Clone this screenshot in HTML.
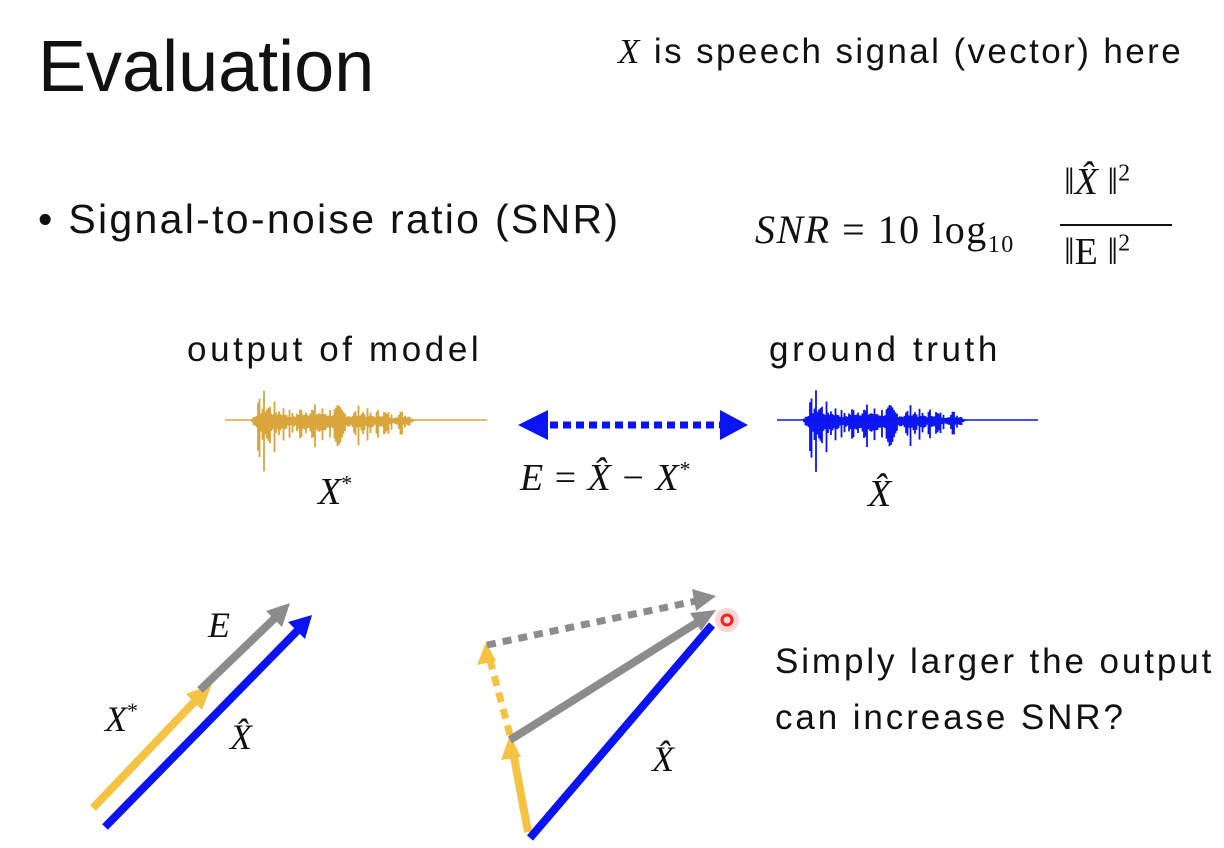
<!DOCTYPE html>
<html><head><meta charset="utf-8"><style>
body{margin:0;background:#fff;width:1224px;height:848px;overflow:hidden;position:relative;font-family:"Liberation Sans",sans-serif;color:#111}
.t{position:absolute;white-space:nowrap}
.m{font-family:"Liberation Serif",serif;font-style:italic}
</style></head><body>
<div class="t" style="left:38px;top:26px;font-size:72px;font-weight:300">Evaluation</div>
<div class="t" style="left:618px;top:32px;font-size:35px;letter-spacing:2.4px"><span class="m">X</span> is speech signal (vector) here</div>
<div class="t" style="left:38px;top:196px;font-size:41px;letter-spacing:2.3px">• Signal-to-noise ratio (SNR)</div>
<div class="t m" style="left:755px;top:206px;font-size:40px;letter-spacing:1.5px">SNR <span style="font-style:normal">= 10 log<sub style="font-size:24px">10</sub></span></div>
<div class="t m" style="left:1064px;top:160px;font-size:38px">‖X̂ ‖<sup style="font-size:24px;font-style:normal">2</sup></div>
<div style="position:absolute;left:1060px;top:224px;width:112px;height:2px;background:#111"></div>
<div class="t" style="left:1064px;top:230px;font-size:38px;font-family:'Liberation Serif',serif">‖E ‖<sup style="font-size:24px">2</sup></div>
<div class="t" style="left:187px;top:330px;font-size:35px;letter-spacing:3.6px">output of model</div>
<div class="t" style="left:769px;top:330px;font-size:35px;letter-spacing:3.6px">ground truth</div>
<svg width="1224" height="848" style="position:absolute;left:0;top:0">
<g id="w1"></g><g id="w2"></g>
<line x1="550" y1="425" x2="720" y2="425" stroke="#0a14f0" stroke-width="7" stroke-dasharray="8,5"/>
<path d="M518,425L548,410L548,440z" fill="#0a14f0"/>
<path d="M748,425L720,410L720,440z" fill="#0a14f0"/>
<line x1="93" y1="808" x2="196" y2="700" stroke="#f5c242" stroke-width="8"/>
<path d="M212,684L186,694L202,710z" fill="#f5c242"/>
<line x1="200" y1="690" x2="276" y2="617" stroke="#8c8c8c" stroke-width="8"/>
<path d="M290,603L266,611L282,627z" fill="#8c8c8c"/>
<line x1="105" y1="827" x2="298" y2="630" stroke="#0a14f0" stroke-width="8"/>
<path d="M312,615L288,622L305,639z" fill="#0a14f0"/>
<line x1="528" y1="832" x2="514" y2="757" stroke="#f5c242" stroke-width="8"/>
<path d="M510,735L501,760L521,757z" fill="#f5c242"/>
<line x1="510" y1="735" x2="490" y2="660" stroke="#f5c242" stroke-width="7" stroke-dasharray="10,7"/>
<path d="M486,642L477,665L496,661z" fill="#f5c242"/>
<line x1="510" y1="740" x2="698" y2="622" stroke="#8c8c8c" stroke-width="8"/>
<path d="M716,610L690,613L701,631z" fill="#8c8c8c"/>
<line x1="487" y1="645" x2="696" y2="601" stroke="#8c8c8c" stroke-width="7" stroke-dasharray="9,7"/>
<path d="M716,596L692,589L696,611z" fill="#8c8c8c"/>
<line x1="530" y1="838" x2="712" y2="625" stroke="#0a14f0" stroke-width="8"/>
<circle cx="727" cy="620" r="12" fill="#f55" opacity="0.25"/>
<circle cx="727" cy="620" r="5" fill="none" stroke="#e22" stroke-width="3"/>
</svg>
<div class="t m" style="left:318px;top:470px;font-size:38px">X<sup style="font-size:22px;font-style:normal">*</sup></div>
<div class="t m" style="left:520px;top:456px;font-size:38px;letter-spacing:1px">E <span style="font-style:normal">=</span> X̂ <span style="font-style:normal">−</span> X<sup style="font-size:22px;font-style:normal">*</sup></div>
<div class="t m" style="left:868px;top:472px;font-size:38px">X̂</div>
<div class="t m" style="left:208px;top:604px;font-size:36px">E</div>
<div class="t m" style="left:105px;top:698px;font-size:36px">X<sup style="font-size:22px;font-style:normal">*</sup></div>
<div class="t m" style="left:230px;top:716px;font-size:36px">X̂</div>
<div class="t m" style="left:652px;top:738px;font-size:36px">X̂</div>
<div class="t" style="left:775px;top:634px;font-size:35px;line-height:56px;letter-spacing:2.9px">Simply larger the output<br>can increase SNR?</div>
<script>
function wave(id,x0,x1,color){
 var g=document.getElementById(id),s='',seed=7;
 function r(){seed=(seed*9301+49297)%233280;return seed/233280;}
 var env=[[0,0],[0.1,0],[0.12,0.5],[0.15,1],[0.18,0.6],[0.22,0.55],[0.26,0.25],[0.3,0.6],[0.38,0.45],[0.44,0.5],[0.48,0.3],[0.52,0.55],[0.56,0.25],[0.6,0.45],[0.64,0.2],[0.66,0.35],[0.7,0.3],[0.72,0.05],[0.74,0],[1,0]];
 function e(t){for(var i=1;i<env.length;i++){if(t<=env[i][0]){var a=env[i-1],b=env[i];return a[1]+(b[1]-a[1])*(t-a[0])/(b[0]-a[0]);}}return 0;}
 s+='<line x1="'+x0+'" y1="420" x2="'+x1+'" y2="420" stroke="'+color+'" stroke-width="1.5"/>';
 for(var x=x0;x<x1;x+=1.5){var t=(x-x0)/(x1-x0),q=r(),a=e(t)*(0.25+0.75*q*q);var up=a*32,dn=a*56;
  if(a>0.01)s+='<line x1="'+x+'" y1="'+(420-up)+'" x2="'+x+'" y2="'+(420+dn)+'" stroke="'+color+'" stroke-width="1.8"/>';}
 g.innerHTML=s;}
wave('w1',225,487,'#d9a53a');wave('w2',777,1038,'#0a14f0');
</script>
</body></html>
